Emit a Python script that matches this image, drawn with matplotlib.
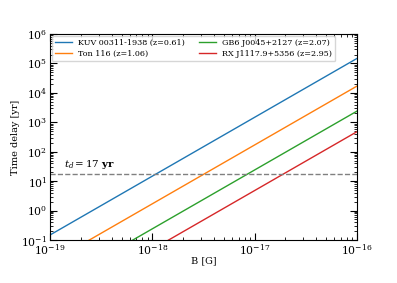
import matplotlib
matplotlib.use("Agg")
import matplotlib.pyplot as plt

plt.rcParams['font.family'] = 'DejaVu Serif'
plt.rcParams['mathtext.fontset'] = 'dejavuserif'

# endpoints of each (straight in log-log) curve
B_ends = [1e-19, 1e-16]
labels = ["KUV 00311-1938 (z=0.61)", "Ton 116 (z=1.06)",
          "GB6 J0045+2127 (z=2.07)", "RX J1117.9+5356 (z=2.95)"]
t_kuv = [0.148, 1.48e5]
t_ton = [0.017, 1.7e4]
t_gb6 = [0.0024, 2.4e3]
t_rx = [0.00048, 4.8e2]
series = [t_kuv, t_ton, t_gb6, t_rx]
colors = ["#1f77b4", "#ff7f0e", "#2ca02c", "#d62728"]
t_d = 17

fig = plt.figure(figsize=(3.97, 2.83), dpi=100)
ax = fig.add_axes([50/397, 1-240/283, 307/397, 206/283])
for lab, t, c in zip(labels, series, colors):
    ax.plot(B_ends, t, color=c, lw=1.0, label=lab)
ax.axhline(t_d, color='gray', ls='--', lw=1.0)
ax.text(1.38e-19, 30, r'$t_d = 17\ \mathbf{yr}$', fontsize=7.4)
ax.set_xscale('log'); ax.set_yscale('log')
ax.set_xlim(1e-19, 1e-16); ax.set_ylim(1e-1, 1e6)
ax.set_xlabel('B [G]', fontsize=7, labelpad=-1)
ax.set_ylabel('Time delay [yr]', fontsize=7, labelpad=1)
ax.tick_params(which='both', direction='in', top=True, right=True, labelsize=7.8, pad=2)
ax.tick_params(which='major', length=5)
ax.tick_params(which='minor', length=2.5)
ax.legend(ncol=2, loc='upper left', fontsize=5.8, frameon=True, borderaxespad=0.2,
          handlelength=2.1, handletextpad=0.75, columnspacing=1.8,
          borderpad=0.4, labelspacing=0.4)
fig.savefig('out.png', dpi=100)
